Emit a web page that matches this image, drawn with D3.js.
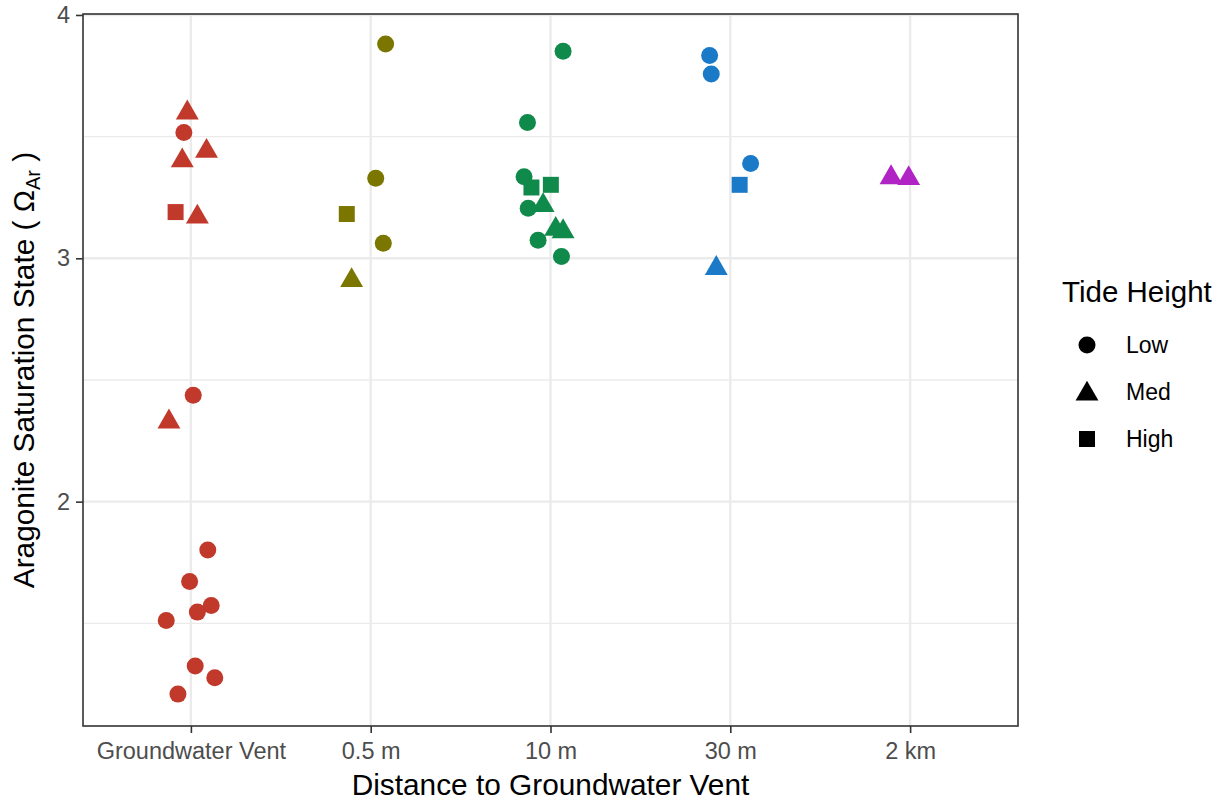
<!DOCTYPE html>
<html>
<head>
<meta charset="utf-8">
<script src="https://cdn.jsdelivr.net/npm/d3@7"></script>
<style>
	html, body { margin: 0; padding: 0; background: #fff; }
	svg { display: block; font-family: "Liberation Sans", Arial, Helvetica, sans-serif; }
	.tick-label { fill: #4d4d4d; font-size: 23.5px; }
	.axis-title { fill: #000; font-size: 29.8px; }
	.legend-title { fill: #000; font-size: 29.5px; }
	.legend-label { fill: #000; font-size: 23px; }
</style>
</head>
<body>
<svg width="1231" height="801"></svg>
<script>

	// categories on the x axis, in order
	var categories = [ 'Groundwater Vent', '0.5 m', '10 m', '30 m', '2 km' ];

	// colour of each category
	var colours = [ '#c0392b', '#7a7600', '#0f8a4a', '#1a7ac8', '#b023c4' ];

	// tide levels, legend order
	var tides = [ 'Low', 'Med', 'High' ];

	// y axis ticks
	var majorTicks = [ 2, 3, 4 ],
		minorTicks = [ 1.5, 2.5, 3.5 ];

	// one row per sample: category index, tide, aragonite saturation, jitter (in category units)
	var sampleCategory = [
		0, 0, 0, 0, 0, 0, 0, 0, 0, 0, 0, 0, 0, 0, 0, 0,
		1, 1, 1, 1, 1,
		2, 2, 2, 2, 2, 2, 2, 2, 2, 2, 2,
		3, 3, 3, 3, 3,
		4, 4
	];
	var sampleTide = [
		'Low', 'Low', 'Low', 'Low', 'Low', 'Low', 'Low', 'Low', 'Low', 'Low',
		'Med', 'Med', 'Med', 'Med', 'Med', 'High',
		'Low', 'Low', 'Low', 'Med', 'High',
		'Low', 'Low', 'Low', 'Low', 'Low', 'Low', 'Med', 'Med', 'Med', 'High', 'High',
		'Low', 'Low', 'Low', 'Med', 'High',
		'Med', 'Med'
	];
	var sampleOmega = [
		3.517, 2.437, 1.801, 1.672, 1.573, 1.546, 1.512, 1.325, 1.276, 1.209,
		3.598, 3.440, 3.401, 3.170, 2.328, 3.190,
		3.881, 3.329, 3.062, 2.909, 3.182,
		3.851, 3.558, 3.335, 3.206, 3.074, 3.007, 3.217, 3.120, 3.110, 3.291, 3.302,
		3.833, 3.757, 3.390, 2.959, 3.302,
		3.332, 3.328
	];
	var sampleJitter = [
		-0.039, 0.013, 0.094, -0.007, 0.113, 0.036, -0.137, 0.024, 0.133, -0.072,
		-0.020, 0.087, -0.048, 0.036, -0.122, -0.085,
		0.083, 0.028, 0.070, -0.106, -0.133,
		0.070, -0.128, -0.147, -0.124, -0.069, 0.061, -0.041, 0.029, 0.070, -0.106, 0.002,
		-0.115, -0.106, 0.113, -0.078, 0.052,
		-0.106, -0.008
	];


	var svg = d3.select( 'svg' ),
		panel = { left: 83, right: 1018, top: 14, bottom: 726 },
		radius = 8.5,
		samples;

	samples = sampleOmega.map( function( v, i ) {
		return {
			cat: sampleCategory[ i ],
			tide: sampleTide[ i ],
			omega: v,
			jitter: sampleJitter[ i ]
		};
	} );

	// discrete axis with ggplot's 0.6 unit expansion
	var x = d3.scaleLinear()
		.domain( [ -0.6, categories.length - 0.4 ] )
		.range( [ panel.left, panel.right ] );

	var y = d3.scaleLinear()
		.domain( [ 1.078, 4.004 ] )
		.range( [ panel.bottom, panel.top ] );


	/**
	 * path for a ggplot style point shape centred on 0,0
	 * @param	{String}	tide
	 * @param	{Number}	r
	 * @returns	{String}
	 */
	function shapePath( tide, r ) {
		var p = d3.path(), h;
		if ( tide === 'Low' ) {
			p.arc( 0, 0, r, 0, 2 * Math.PI );
		} else if ( tide === 'Med' ) {
			p.moveTo( 0, -1.555 * r );
			p.lineTo( 1.347 * r, 0.778 * r );
			p.lineTo( -1.347 * r, 0.778 * r );
		} else {
			h = 0.94 * r;
			p.rect( -h, -h, 2 * h, 2 * h );
		}
		p.closePath();
		return p.toString();
	}


	// grid
	var grid = svg.append( 'g' ).attr( 'class', 'grid' );

	grid.selectAll( 'line.minor' )
		.data( minorTicks )
		.enter().append( 'line' )
		.attr( 'class', 'minor' )
		.attr( 'x1', panel.left ).attr( 'x2', panel.right )
		.attr( 'y1', y ).attr( 'y2', y )
		.attr( 'stroke', '#ebebeb' )
		.attr( 'stroke-width', 1.3 );

	grid.selectAll( 'line.major-y' )
		.data( majorTicks )
		.enter().append( 'line' )
		.attr( 'class', 'major-y' )
		.attr( 'x1', panel.left ).attr( 'x2', panel.right )
		.attr( 'y1', y ).attr( 'y2', y )
		.attr( 'stroke', '#ebebeb' )
		.attr( 'stroke-width', 2.4 );

	grid.selectAll( 'line.major-x' )
		.data( categories )
		.enter().append( 'line' )
		.attr( 'class', 'major-x' )
		.attr( 'x1', function( d, i ) { return x( i ); } )
		.attr( 'x2', function( d, i ) { return x( i ); } )
		.attr( 'y1', panel.top ).attr( 'y2', panel.bottom )
		.attr( 'stroke', '#ebebeb' )
		.attr( 'stroke-width', 2.4 );


	// points: circles first, then triangles, then squares
	var drawOrder = samples.slice().sort( function( a, b ) {
		return tides.indexOf( a.tide ) - tides.indexOf( b.tide );
	} );

	svg.append( 'g' ).attr( 'class', 'points' )
		.selectAll( 'path' )
		.data( drawOrder )
		.enter().append( 'path' )
		.attr( 'd', function( d ) { return shapePath( d.tide, radius ); } )
		.attr( 'transform', function( d ) {
			return 'translate(' + x( d.cat + d.jitter ) + ',' + y( d.omega ) + ')';
		} )
		.attr( 'fill', function( d ) { return colours[ d.cat ]; } );


	// panel border
	svg.append( 'rect' )
		.attr( 'x', panel.left )
		.attr( 'y', panel.top )
		.attr( 'width', panel.right - panel.left )
		.attr( 'height', panel.bottom - panel.top )
		.attr( 'fill', 'none' )
		.attr( 'stroke', '#333' )
		.attr( 'stroke-width', 1.6 );


	// y axis
	var yAxis = svg.append( 'g' )
		.attr( 'transform', 'translate(' + panel.left + ',0)' )
		.call( d3.axisLeft( y ).tickValues( majorTicks ).tickSize( 7 ).tickPadding( 6 ).tickFormat( d3.format( 'd' ) ) );

	yAxis.select( '.domain' ).remove();
	yAxis.selectAll( '.tick line' ).attr( 'stroke', '#333' ).attr( 'stroke-width', 1.6 );
	yAxis.selectAll( '.tick text' ).attr( 'class', 'tick-label' );
	yAxis.attr( 'font-size', null ).attr( 'font-family', null );


	// x axis
	var xAxis = svg.append( 'g' )
		.attr( 'transform', 'translate(0,' + panel.bottom + ')' )
		.call( d3.axisBottom( x )
			.tickValues( d3.range( categories.length ) )
			.tickSize( 7 )
			.tickPadding( 9 )
			.tickFormat( function( i ) { return categories[ i ]; } ) );

	xAxis.select( '.domain' ).remove();
	xAxis.selectAll( '.tick line' ).attr( 'stroke', '#333' ).attr( 'stroke-width', 1.6 );
	xAxis.selectAll( '.tick text' ).attr( 'class', 'tick-label' );
	xAxis.attr( 'font-size', null ).attr( 'font-family', null );


	// axis titles
	svg.append( 'text' )
		.attr( 'class', 'axis-title' )
		.attr( 'text-anchor', 'middle' )
		.attr( 'x', ( panel.left + panel.right ) / 2 )
		.attr( 'y', 795 )
		.text( 'Distance to Groundwater Vent' );

	var yTitle = svg.append( 'text' )
		.attr( 'class', 'axis-title' )
		.attr( 'text-anchor', 'middle' )
		.attr( 'transform', 'translate(34,' + ( panel.top + panel.bottom ) / 2 + ') rotate(-90)' );

	yTitle.append( 'tspan' ).text( 'Aragonite Saturation State ( \u03a9' );
	yTitle.append( 'tspan' )
		.attr( 'font-size', '20px' )
		.attr( 'dy', 6 )
		.text( 'Ar' );
	yTitle.append( 'tspan' )
		.attr( 'dy', -6 )
		.text( ' )' );


	// legend
	var legend = svg.append( 'g' ).attr( 'class', 'legend' );

	legend.append( 'text' )
		.attr( 'class', 'legend-title' )
		.attr( 'x', 1062 )
		.attr( 'y', 302 )
		.text( 'Tide Height' );

	var keys = legend.selectAll( 'g.key' )
		.data( tides )
		.enter().append( 'g' )
		.attr( 'class', 'key' )
		.attr( 'transform', function( d, i ) { return 'translate(1087,' + ( 345 + i * 47 ) + ')'; } );

	keys.append( 'path' )
		.attr( 'd', function( d ) { return shapePath( d, radius ); } )
		.attr( 'transform', function( d ) { return d === 'Med' ? 'translate(0,2)' : null; } )
		.attr( 'fill', '#000' );

	keys.append( 'text' )
		.attr( 'class', 'legend-label' )
		.attr( 'x', 39 )
		.attr( 'y', 8 )
		.text( function( d ) { return d; } );

</script>
</body>
</html>
